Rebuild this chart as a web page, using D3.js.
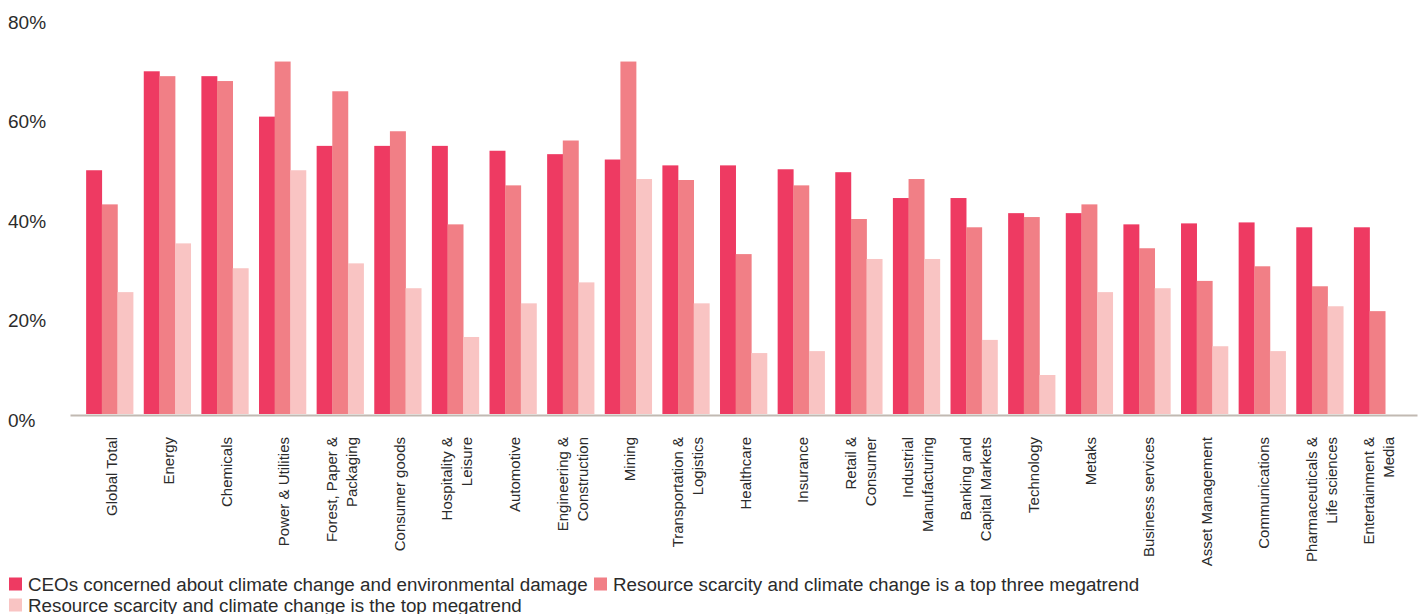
<!DOCTYPE html>
<html lang="en">
<head>
    <meta charset="UTF-8">
    <title>Climate change concern by industry</title>
    <script src="https://d3js.org/d3.v7.min.js"></script>
    <style>
        body { margin: 0; background: #fff; }
        text { font-family: "Liberation Sans", Arial, Helvetica, sans-serif; fill: #2b2b2b; }
    </style>
</head>
<body>
<script>
// industries, "\n" marks a line break in the axis label
var categories = ["Global Total", "Energy", "Chemicals", "Power & Utilities", "Forest, Paper &\nPackaging",
    "Consumer goods", "Hospitality &\nLeisure", "Automotive", "Engineering &\nConstruction", "Mining",
    "Transportation &\nLogistics", "Healthcare", "Insurance", "Retail &\nConsumer", "Industrial\nManufacturing",
    "Banking and\nCapital Markets", "Technology", "Metaks", "Business services", "Asset Management",
    "Communications", "Pharmaceuticals &\nLife sciences", "Entertainment &\nMedia"];

var seriesNames = ["CEOs concerned about climate change and environmental damage",
    "Resource scarcity and climate change is a top three megatrend",
    "Resource scarcity and climate change is the top megatrend"];

var concerned = [50, 70.3, 69.3, 61, 55, 55, 55, 54, 53.3, 52.2, 51, 51, 50.2, 49.6, 44.3, 44.3, 41.2, 41.2, 38.9, 39.1, 39.3, 38.3, 38.3];
var topThree  = [43, 69.3, 68.3, 72.3, 66.2, 58, 38.9, 46.9, 56.1, 72.3, 48, 32.8, 46.9, 40, 48.2, 38.3, 40.4, 43, 34, 27.3, 30.3, 26.2, 21.1];
var topOne    = [25, 35, 29.9, 50, 30.9, 25.8, 15.8, 22.7, 27, 48.2, 22.7, 12.5, 12.9, 31.8, 31.8, 15.2, 8, 25, 25.8, 13.9, 12.9, 22.1, 0];

var yTicks = [0, 20, 40, 60, 80];
var colors = ["#ee3a62", "#f17f86", "#f9c4c3"];

var width = 1421, height = 614;
var series = [concerned, topThree, topOne];

var svg = d3.select("body").append("svg")
    .attr("width", width)
    .attr("height", height);

var x = d3.scaleBand()
    .domain(categories)
    .range([70, 1417])
    .paddingInner(0.185)
    .paddingOuter(0.28);

var xSub = d3.scaleBand()
    .domain(d3.range(series.length))
    .range([0, x.bandwidth()]);

var y = d3.scaleLinear()
    .domain([0, 80])
    .range([414, 24]);

// tick labels sit a little looser than the bars in the original
var yLabel = d3.scaleLinear()
    .domain([0, 80])
    .range([420, 22]);

// y axis labels, left aligned at the page edge
svg.append("g")
    .selectAll("text")
    .data(yTicks)
    .join("text")
    .attr("x", 8)
    .attr("y", function(d) { return yLabel(d); })
    .attr("dy", "0.35em")
    .style("font-size", "19px")
    .text(function(d) { return d + "%"; });

// grouped bars
var groups = svg.append("g")
    .selectAll("g")
    .data(categories)
    .join("g")
    .attr("transform", function(d) { return "translate(" + x(d) + ",0)"; });

groups.selectAll("rect")
    .data(function(d, i) { return series.map(function(s, k) { return { k: k, v: s[i] }; }); })
    .join("rect")
    .attr("x", function(d) { return xSub(d.k); })
    .attr("width", xSub.bandwidth() + 0.3)
    .attr("y", function(d) { return y(d.v); })
    .attr("height", function(d) { return y(0) - y(d.v); })
    .attr("fill", function(d) { return colors[d.k]; });

// baseline
var xAxis = d3.axisBottom(x).tickSize(0).tickFormat("");
var axisG = svg.append("g")
    .attr("transform", "translate(0," + (y(0) + 1) + ")")
    .call(xAxis);
axisG.select(".domain").attr("stroke", "#c1b9b2").attr("stroke-width", 2);

// rotated category labels
var lineH = 20;
svg.append("g")
    .selectAll("text")
    .data(categories)
    .join("text")
    .attr("transform", function(d) { return "translate(" + (x(d) + x.bandwidth() / 2) + ",437) rotate(-90)"; })
    .attr("text-anchor", "end")
    .style("font-size", "15px")
    .each(function(d) {
        var lines = d.split("\n");
        var t = d3.select(this);
        lines.forEach(function(l, i) {
            t.append("tspan")
                .attr("x", 0)
                .attr("y", 7 + (i - (lines.length - 1) / 2) * lineH)
                .text(l);
        });
    });

// legend
var legendPos = [[9, 584], [594, 584], [9, 605]];
var legend = svg.append("g")
    .selectAll("g")
    .data(seriesNames)
    .join("g")
    .attr("transform", function(d, i) { return "translate(" + legendPos[i][0] + "," + legendPos[i][1] + ")"; });

legend.append("rect")
    .attr("x", 0)
    .attr("y", -6.5)
    .attr("width", 13)
    .attr("height", 13)
    .attr("fill", function(d, i) { return colors[i]; });

legend.append("text")
    .attr("x", 19)
    .attr("y", 0)
    .attr("dy", "0.36em")
    .style("font-size", "18.8px")
    .text(function(d) { return d; });
</script>
</body>
</html>
